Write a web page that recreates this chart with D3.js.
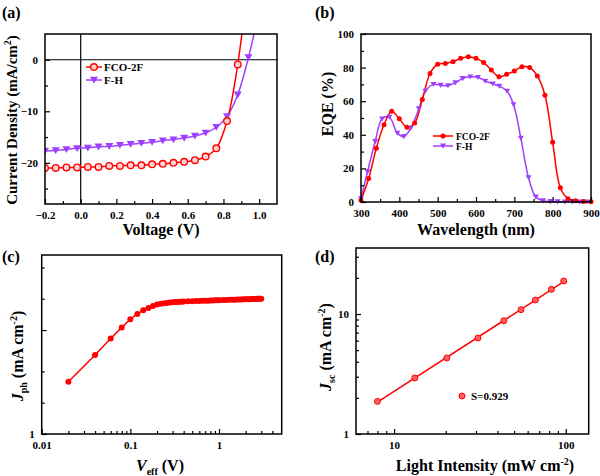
<!DOCTYPE html>
<html><head><meta charset="utf-8">
<script src="https://cdn.jsdelivr.net/npm/d3@7"></script>
<style>
body{margin:0;background:#fff;}
svg{display:block;}
text{font-family:"Liberation Serif","Times New Roman",serif;font-weight:bold;fill:#000;}
</style></head><body>
<svg id="c" width="600" height="476"></svg>
<script>
// ---------- DATA ----------
// (a) J-V
const jvVoltage = [-0.2,-0.14,-0.08,-0.02,0.04,0.10,0.16,0.22,0.28,0.34,0.40,0.46,0.52,0.58,0.64,0.70,0.76,0.82,0.88,0.94];
const jvFCO = [-21.0,-21.0,-20.9,-20.9,-20.8,-20.8,-20.6,-20.6,-20.5,-20.5,-20.3,-20.2,-20.0,-19.8,-19.5,-18.8,-17.2,-11.9,-0.9,16];
const jvFH  = [-17.7,-17.6,-17.4,-17.2,-17.1,-16.9,-16.8,-16.6,-16.4,-16.2,-16.0,-15.7,-15.5,-15.2,-14.8,-14.2,-13.1,-11.0,-6.8,0.45];
const jvFHextraV = [1.0], jvFHextraJ = [9.5];
const jvXTicks = [-0.2,0.0,0.2,0.4,0.6,0.8,1.0];
const jvYTicks = [-20,-10,0];
// (b) EQE
const eqeWlFCO = [300,320,340,360,380,400,420,440,460,480,500,520,540,560,580,600,620,640,660,680,700,720,740,760,780,800,820,840,860,880,900];
const eqeFCO   = [1,14,32,46,54,49.5,44.5,47,61,76.5,82,82.5,83.5,85.5,86.5,85.5,83,78.5,74.5,76,78,80.5,80,75,63.5,35.5,8.5,2,0.8,0.3,0.2];
const eqeWlFH  = [300,317,337,355,374,395,412,430,451,468,489,508,527,546,565,585,605,624,644,661,681,698,717,737,756,775,794,813,832,851,870,889];
const eqeFH    = [2,18,36,49.5,50.5,41,39,44,55.5,66,70,69.5,69.3,71,73.5,74.5,74.2,72,70.3,69,66,58,38,14.5,3,0.8,0.3,0.2,0.1,0.1,0.1,0.1];
const eqeXTicks = [300,400,500,600,700,800,900];
const eqeYTicks = [0,20,40,60,80,100];
// (c) Jph vs Veff
const veff = [0.02,0.04,0.06,0.08,0.10,0.12,0.14,0.16,0.18,0.20,0.22,0.24,0.26,0.28,0.30,0.32,0.34,0.36,0.38,0.40,0.45,0.50,0.55,0.60,0.65,0.70,0.75,0.80,0.85,0.90,0.95,1.0,1.1,1.2,1.3,1.4,1.5,1.6,1.7,1.8,1.9,2.0,2.1,2.2,2.3,2.4,2.5,2.6,2.7,2.8,2.9,3.0];
const jph  = [3.18,5.75,8.3,10.6,12.7,14.3,15.5,16.3,17.0,17.6,17.9,18.1,18.25,18.38,18.48,18.56,18.63,18.69,18.74,18.79,18.88,18.95,19.01,19.06,19.1,19.14,19.18,19.22,19.26,19.3,19.33,19.36,19.42,19.47,19.52,19.56,19.6,19.64,19.67,19.7,19.73,19.76,19.79,19.82,19.85,19.88,19.9,19.93,19.95,19.97,19.99,20.01];
const cXTicks = [0.01,0.1,1];
const cXMinor = [0.02,0.03,0.04,0.05,0.06,0.07,0.08,0.09,0.2,0.3,0.4,0.5,0.6,0.7,0.8,0.9,2,3,4];
const cYTicks = [1,10];
const cYLabels = ["1",""];
const cYMinor = [2,4,20,40];
// (d) Jsc vs light intensity
const intensity = [8.0,13.2,20.3,30.8,43.6,54.9,66.5,82.5,97.3];
const jsc = [1.87,2.93,4.30,6.31,8.80,10.87,13.08,16.06,18.84];
const slopeLabel = "S=0.929";
const dXTicks = [10,100];
const dXMinor = [7,8,9,20,30,40,50,60,70,80,90];
const dYTicks = [1,10];
const dYMinor = [2,3,4,5,6,7,8,9,20,30];

const RED = "#ff0000", PURPLE = "#a040ff";
const svg = d3.select("#c");

function frame(x0,x1,y0,y1){
  svg.append("rect").attr("x",x0).attr("y",y1).attr("width",x1-x0).attr("height",y0-y1)
    .attr("fill","none").attr("stroke","#000").attr("stroke-width",1.5);
}
function xAxis(scale,y,ticks,fmt,minor){
  const g = svg.append("g").attr("transform",`translate(0,${y})`)
    .call(d3.axisBottom(scale).tickValues(ticks).tickFormat(fmt).tickSizeInner(-5).tickSizeOuter(0).tickPadding(7));
  g.select(".domain").remove();
  g.selectAll("line").attr("stroke-width",1.2);
  g.selectAll("text").style("font-size","11px");
  if(minor){
    const m = svg.append("g").attr("transform",`translate(0,${y})`)
      .call(d3.axisBottom(scale).tickValues(minor).tickFormat("").tickSizeInner(-3).tickSizeOuter(0));
    m.select(".domain").remove(); m.selectAll("line").attr("stroke-width",1.2);
  }
  return g;
}
function yAxis(scale,x,ticks,fmt,minor){
  const g = svg.append("g").attr("transform",`translate(${x},0)`)
    .call(d3.axisLeft(scale).tickValues(ticks).tickFormat(fmt).tickSizeInner(-5).tickSizeOuter(0).tickPadding(7));
  g.select(".domain").remove();
  g.selectAll("line").attr("stroke-width",1.2);
  g.selectAll("text").style("font-size","11px");
  if(minor){
    const m = svg.append("g").attr("transform",`translate(${x},0)`)
      .call(d3.axisLeft(scale).tickValues(minor).tickFormat("").tickSizeInner(-3).tickSizeOuter(0));
    m.select(".domain").remove(); m.selectAll("line").attr("stroke-width",1.2);
  }
  return g;
}
function tri(cx,cy,s){ return `M${cx-s},${cy-s*0.8}L${cx+s},${cy-s*0.8}L${cx},${cy+s*0.9}Z`; }
function panelLabel(t,x,y){ svg.append("text").attr("x",x).attr("y",y).style("font-size","16px").text(t); }

// ================= (a) =================
{
  const X0=45,X1=277,Y0=204,Y1=34;
  const x = d3.scaleLinear().domain([-0.2,1.1]).range([X0,X1]);
  const y = d3.scaleLinear().domain([-28,5]).range([Y0,Y1]);
  svg.append("clipPath").attr("id","clipA").append("rect").attr("x",X0).attr("y",Y1).attr("width",X1-X0).attr("height",Y0-Y1);
  svg.append("line").attr("x1",X0).attr("x2",X1).attr("y1",y(0)).attr("y2",y(0)).attr("stroke","#000").attr("stroke-width",1.2);
  svg.append("line").attr("x1",x(0)).attr("x2",x(0)).attr("y1",Y0).attr("y2",Y1).attr("stroke","#000").attr("stroke-width",1.2);
  const g = svg.append("g").attr("clip-path","url(#clipA)");
  const line = d3.line().x(d=>x(d[0])).y(d=>y(d[1])).curve(d3.curveCatmullRom.alpha(0.5));
  const fh = jvVoltage.map((v,i)=>[v,jvFH[i]]).concat(jvFHextraV.map((v,i)=>[v,jvFHextraJ[i]]));
  const fco = jvVoltage.map((v,i)=>[v,jvFCO[i]]);
  g.append("path").datum(fh).attr("d",line).attr("fill","none").attr("stroke",PURPLE).attr("stroke-width",1.5);
  g.append("path").datum(fco).attr("d",line).attr("fill","none").attr("stroke",RED).attr("stroke-width",1.5);
  g.selectAll(".ta").data(fh.slice(0,jvFH.length)).enter().append("path")
    .attr("d",d=>tri(x(d[0]),y(d[1]),4)).attr("fill",PURPLE);
  g.selectAll(".ca").data(fco.slice(0,jvFCO.length-1)).enter().append("circle")
    .attr("cx",d=>x(d[0])).attr("cy",d=>y(d[1])).attr("r",3.3).attr("fill","#ffd0d0").attr("stroke",RED).attr("stroke-width",1.4);
  frame(X0,X1,Y0,Y1);
  xAxis(x,Y0,jvXTicks,d3.format(".1f"),[-0.1,0.1,0.3,0.5,0.7,0.9]);
  yAxis(y,X0,jvYTicks,d3.format("d"),[-25,-15,-5]);
  svg.append("line").attr("x1",86).attr("x2",102).attr("y1",67).attr("y2",67).attr("stroke",RED).attr("stroke-width",1.5);
  svg.append("circle").attr("cx",94).attr("cy",67).attr("r",3.3).attr("fill","#ffd0d0").attr("stroke",RED).attr("stroke-width",1.4);
  svg.append("text").attr("x",104).attr("y",71).style("font-size","11px").text("FCO-2F");
  svg.append("line").attr("x1",86).attr("x2",102).attr("y1",80).attr("y2",80).attr("stroke",PURPLE).attr("stroke-width",1.5);
  svg.append("path").attr("d",tri(94,80,4)).attr("fill",PURPLE);
  svg.append("text").attr("x",104).attr("y",84).style("font-size","11px").text("F-H");
  svg.append("text").attr("x",161).attr("y",235).attr("text-anchor","middle").style("font-size","16px").text("Voltage (V)");
  const yl = svg.append("text").attr("transform","translate(17,120) rotate(-90)").attr("text-anchor","middle").style("font-size","15px");
  yl.append("tspan").text("Current Density (mA/cm");
  yl.append("tspan").attr("dy",-6).style("font-size","10px").text("2");
  yl.append("tspan").attr("dy",6).text(")");
  panelLabel("(a)",2,18);
}

// ================= (b) =================
{
  const X0=361,X1=591,Y0=202,Y1=34;
  const x = d3.scaleLinear().domain([300,900]).range([X0,X1]);
  const y = d3.scaleLinear().domain([0,100]).range([Y0,Y1]);
  const line = d3.line().x(d=>x(d[0])).y(d=>y(d[1])).curve(d3.curveCatmullRom.alpha(0.5));
  const fh = eqeWlFH.map((v,i)=>[v,eqeFH[i]]);
  const fco = eqeWlFCO.map((v,i)=>[v,eqeFCO[i]]);
  svg.append("path").datum(fh).attr("d",line).attr("fill","none").attr("stroke",PURPLE).attr("stroke-width",1.5);
  svg.append("path").datum(fco).attr("d",line).attr("fill","none").attr("stroke",RED).attr("stroke-width",1.5);
  svg.selectAll(".tb").data(fh).enter().append("path").attr("d",d=>tri(x(d[0]),y(d[1]),3)).attr("fill",PURPLE);
  svg.selectAll(".cb").data(fco).enter().append("circle").attr("cx",d=>x(d[0])).attr("cy",d=>y(d[1])).attr("r",2.5).attr("fill",RED);
  frame(X0,X1,Y0,Y1);
  xAxis(x,Y0,eqeXTicks,d3.format("d"),[350,450,550,650,750,850]);
  yAxis(y,X0,eqeYTicks,d3.format("d"),[10,30,50,70,90]);
  svg.append("line").attr("x1",433).attr("x2",453).attr("y1",136).attr("y2",136).attr("stroke",RED).attr("stroke-width",1.5);
  svg.append("circle").attr("cx",443).attr("cy",136).attr("r",2.5).attr("fill",RED);
  svg.append("text").attr("x",456).attr("y",139.5).style("font-size","9.5px").text("FCO-2F");
  svg.append("line").attr("x1",433).attr("x2",453).attr("y1",146).attr("y2",146).attr("stroke",PURPLE).attr("stroke-width",1.5);
  svg.append("path").attr("d",tri(443,146,3)).attr("fill",PURPLE);
  svg.append("text").attr("x",456).attr("y",149.5).style("font-size","9.5px").text("F-H");
  svg.append("text").attr("x",476).attr("y",235).attr("text-anchor","middle").style("font-size","16px").text("Wavelength (nm)");
  svg.append("text").attr("transform","translate(333,104) rotate(-90)").attr("text-anchor","middle").style("font-size","16px").text("EQE (%)");
  panelLabel("(b)",315,18);
}

// ================= (c) =================
{
  const X0=41.7,X1=281.7,Y0=434,Y1=255;
  const x = d3.scaleLog().domain([0.01,5.1]).range([X0,X1]);
  const y = d3.scaleLog().domain([1,52.7]).range([Y0,Y1]);
  const pts = veff.map((v,i)=>[v,jph[i]]);
  svg.append("path").datum(pts).attr("d",d3.line().x(d=>x(d[0])).y(d=>y(d[1]))).attr("fill","none").attr("stroke",RED).attr("stroke-width",1.5);
  svg.selectAll(".cc").data(pts).enter().append("circle").attr("cx",d=>x(d[0])).attr("cy",d=>y(d[1])).attr("r",3).attr("fill",RED);
  frame(X0,X1,Y0,Y1);
  xAxis(x,Y0,cXTicks,d=>String(d),cXMinor);
  yAxis(y,X0,cYTicks,(d,i)=>cYLabels[i],cYMinor);
  const xl = svg.append("text").attr("x",160).attr("y",471).attr("text-anchor","middle").style("font-size","16px");
  xl.append("tspan").style("font-style","italic").text("V");
  xl.append("tspan").attr("dy",4).style("font-size","10px").text("eff");
  xl.append("tspan").attr("dy",-4).text(" (V)");
  const yl = svg.append("text").attr("transform","translate(23,356) rotate(-90)").attr("text-anchor","middle").style("font-size","16px");
  yl.append("tspan").style("font-style","italic").text("J");
  yl.append("tspan").attr("dy",4).style("font-size","10px").text("ph");
  yl.append("tspan").attr("dy",-4).text(" (mA cm");
  yl.append("tspan").attr("dy",-6).style("font-size","10px").text("-2");
  yl.append("tspan").attr("dy",6).text(")");
  panelLabel("(c)",2,262);
}

// ================= (d) =================
{
  const X0=356,X1=588.7,Y0=434,Y1=248;
  const x = d3.scaleLog().domain([6,136]).range([X0,X1]);
  const y = d3.scaleLog().domain([1,35.5]).range([Y0,Y1]);
  const pts = intensity.map((v,i)=>[v,jsc[i]]);
  // least-squares fit in log-log space
  const lx = pts.map(p=>Math.log10(p[0])), ly = pts.map(p=>Math.log10(p[1]));
  const mx = d3.mean(lx), my = d3.mean(ly);
  const b = d3.sum(lx.map((v,i)=>(v-mx)*(ly[i]-my))) / d3.sum(lx.map(v=>(v-mx)*(v-mx)));
  const a = my - b*mx;
  const ends = d3.extent(intensity).map(v=>[v,Math.pow(10,a+b*Math.log10(v))]);
  svg.append("path").datum(ends).attr("d",d3.line().x(d=>x(d[0])).y(d=>y(d[1]))).attr("fill","none").attr("stroke",RED).attr("stroke-width",1.5);
  svg.selectAll(".cd").data(pts).enter().append("circle").attr("cx",d=>x(d[0])).attr("cy",d=>y(d[1])).attr("r",3).attr("fill","#ff6060").attr("stroke",RED).attr("stroke-width",1);
  frame(X0,X1,Y0,Y1);
  xAxis(x,Y0,dXTicks,d=>String(d),dXMinor);
  yAxis(y,X0,dYTicks,d=>String(d),dYMinor);
  svg.append("circle").attr("cx",462).attr("cy",396).attr("r",3).attr("fill","#ff6060").attr("stroke",RED).attr("stroke-width",1);
  svg.append("text").attr("x",471).attr("y",400).style("font-size","11px").text(slopeLabel);
  const xl = svg.append("text").attr("x",485).attr("y",471).attr("text-anchor","middle").style("font-size","16px");
  xl.append("tspan").text("Light Intensity (mW cm");
  xl.append("tspan").attr("dy",-6).style("font-size","10px").text("-2");
  xl.append("tspan").attr("dy",6).text(")");
  const yl = svg.append("text").attr("transform","translate(331,347) rotate(-90)").attr("text-anchor","middle").style("font-size","16px");
  yl.append("tspan").style("font-style","italic").text("J");
  yl.append("tspan").attr("dy",4).style("font-size","10px").text("sc");
  yl.append("tspan").attr("dy",-4).text(" (mA cm");
  yl.append("tspan").attr("dy",-6).style("font-size","10px").text("-2");
  yl.append("tspan").attr("dy",6).text(")");
  panelLabel("(d)",315,262);
}
</script></body></html>
